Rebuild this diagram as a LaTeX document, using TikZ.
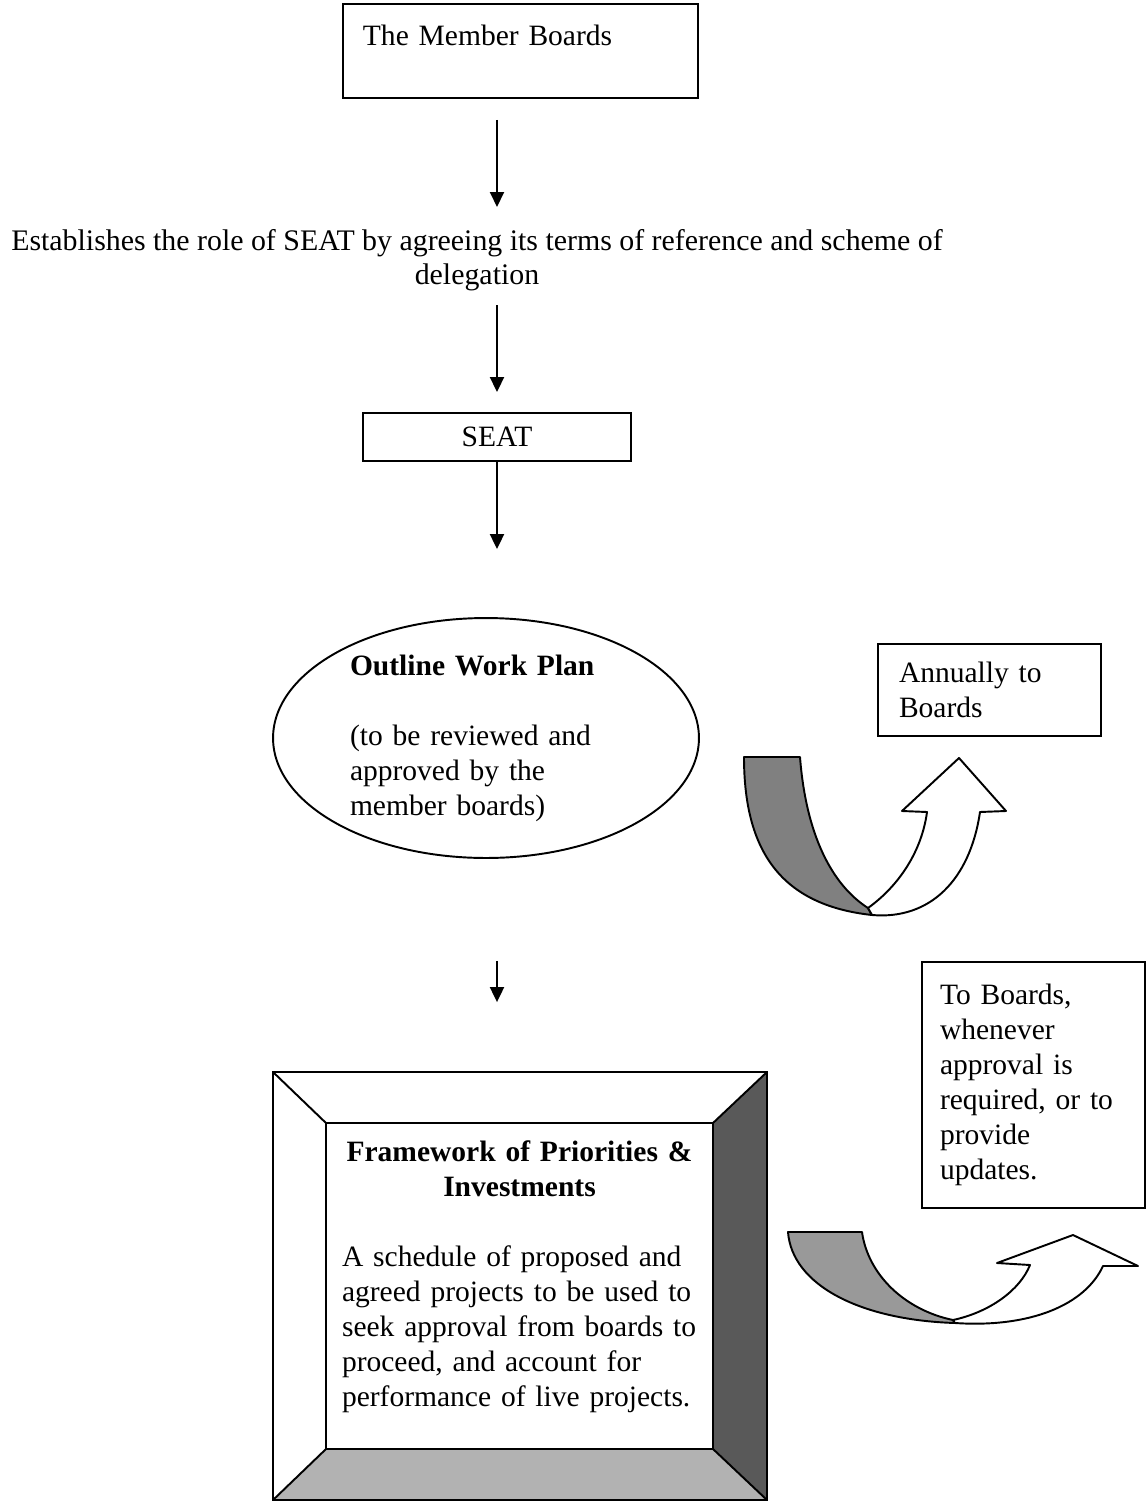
\documentclass[tikz,border=0pt]{standalone}
\usepackage{fontspec}
\setmainfont{Liberation Serif}
\usetikzlibrary{arrows.meta,shapes,shapes.misc}

\begin{document}
\begin{tikzpicture}[x=0.02cm,y=-0.02cm,
    font=\fontsize{16.8}{19.9}\selectfont,line width=1.1pt]
\useasboundingbox (0,0) rectangle (1147,1502);
\begin{scope}[every node/.style={rectangle,draw,line width=1.1pt}]
    \node (MB) at (342,3) [anchor=north west,text width=6.3cm,align=left,
        inner xsep=0.4cm,inner ysep=0.25cm,text height=0.59cm,text depth=0.79cm] {The Member Boards};
    \node (SEAT) at (497,437) [minimum width=5.36cm,minimum height=0.96cm,inner sep=0pt] {SEAT};
    \node (ANN) at (989.5,690) [minimum width=4.46cm,minimum height=1.84cm,
        text width=3.62cm,align=left,inner xsep=0.42cm] {Annually to\\Boards};
    \node (TOB) at (1033.5,1085) [minimum width=4.46cm,minimum height=4.92cm,
        text width=3.74cm,align=left,inner xsep=0.36cm] {To Boards,\\whenever\\approval is\\required, or to\\provide\\updates.};
\end{scope}
\node (EST) at (477,228) [anchor=north,align=center,inner sep=0pt,font=\fontsize{17}{19.9}\selectfont]
    {Establishes the role of SEAT by agreeing its terms of reference and scheme of\\delegation};
\node (OWP) at (486,738) [ellipse,draw,minimum width=8.52cm,minimum height=4.8cm,
    inner sep=0pt,text width=5.44cm,align=left]
    {\textbf{Outline Work Plan}\\[19.9pt](to be reviewed and\\approved by the\\member boards)};
\node (FW) at (519.5,1286) [minimum width=7.7cm,minimum height=6.48cm,text width=7.1cm,inner xsep=0.3cm]
    {{\centering\bfseries Framework of Priorities \&\\Investments\par}\vspace{19.9pt}
    \raggedright A schedule of proposed and\\agreed projects to be used to\\seek approval from boards to\\proceed, and account for\\performance of live projects.\par\vspace{0.36cm}\hrule height 0pt width 0pt};
\begin{scope}[line width=1.1pt]
    \fill [black!65] (FW.north east) -- (767,1072) -- (767,1500) -- (FW.south east) -- cycle;
    \fill [black!30] (FW.south west) -- (273,1500) -- (767,1500) -- (FW.south east) -- cycle;
    \draw (273,1072) rectangle (767,1500);
    \draw (FW.north west) rectangle (FW.south east);
    \draw (273,1072) -- (FW.north west);
    \draw (767,1072) -- (FW.north east);
    \draw (273,1500) -- (FW.south west);
    \draw (767,1500) -- (FW.south east);
\end{scope}
\begin{scope}[>={Triangle[length=0.3cm,width=0.28cm]}]
    \path [->] (MB.south -| SEAT) edge [shorten <=0.42cm,shorten >=0.42cm] (EST.north -| SEAT);
    \path [->] (EST.south -| SEAT) edge [shorten <=0.26cm,shorten >=0.4cm] (SEAT.north);
    \path [->] (SEAT.south) edge [shorten >=1.36cm] (OWP.north -| SEAT);
    \path [->] (OWP.south -| SEAT) edge [shorten <=2.04cm,shorten >=2.42cm] (FW.north -| SEAT);
\end{scope}
\begin{scope}[line width=1.1pt,line join=round]
    \filldraw [fill=black!50] (744,757) -- (800,757) .. controls (806,835) and (832,885) .. (868,908)
        -- (872,915) .. controls (780,905) and (744,850) .. (744,757) -- cycle;
    \filldraw [fill=white] (868,908) .. controls (900,885) and (922,850) .. (927,812) -- (902,811)
        -- (959,758) -- (1006,811) -- (980,812) .. controls (970,880) and (930,920) .. (872,915) -- cycle;
    \filldraw [fill=black!40] (788,1232) -- (862,1232) .. controls (868,1275) and (905,1310) .. (953,1320)
        -- (955,1323) .. controls (860,1320) and (792,1285) .. (788,1232) -- cycle;
    \filldraw [fill=white] (953,1320) .. controls (990,1312) and (1020,1290) .. (1030,1265) -- (997,1263)
        -- (1073,1235) -- (1138,1266) -- (1103,1266) .. controls (1085,1305) and (1030,1328) .. (955,1323) -- cycle;
\end{scope}
\end{tikzpicture}
\end{document}
